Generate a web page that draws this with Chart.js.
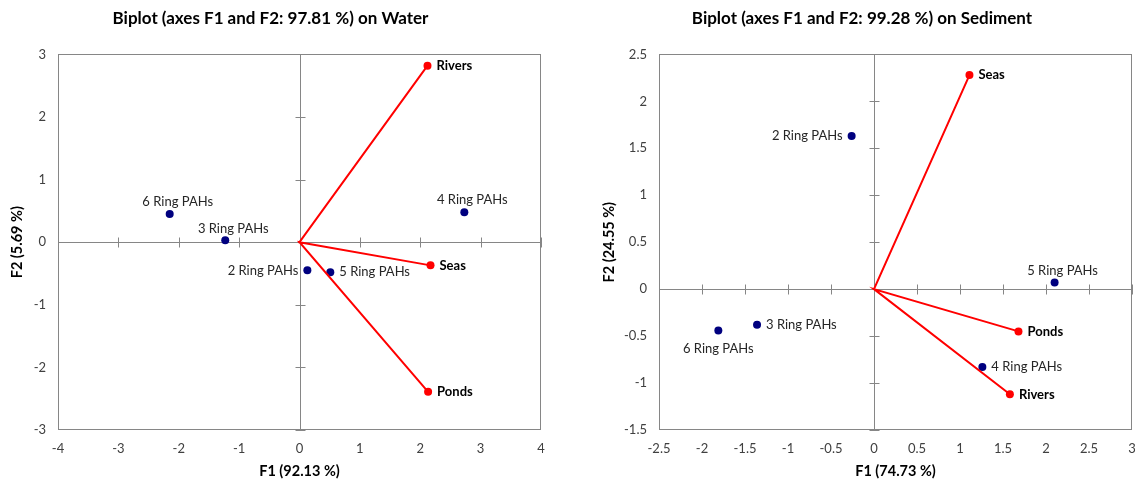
<!DOCTYPE html>
<html lang="en">
<head>
  <meta charset="UTF-8" />
  <title>Biplots Water / Sediment</title>
  <script src="https://cdn.jsdelivr.net/npm/chart.js@4.4.0/dist/chart.umd.min.js"></script>
  <style>
    body { margin: 0; background: #fff; }
    .page { position: relative; width: 1138px; height: 483px; }
    #water-box { position: absolute; left: 0; top: 0; }
    #sediment-box { position: absolute; left: 592px; top: 0; }
  </style>
</head>
<body>
  <div class="page">
    <div id="water-box"><canvas id="water-chart" width="552" height="483"></canvas></div>
    <div id="sediment-box"><canvas id="sediment-chart" width="546" height="483"></canvas></div>
  </div>

  <script>
    // ---- Water biplot data ----
    var waterObs = ['Rivers', 'Seas', 'Ponds'];
    var waterObsF1 = [2.12, 2.17, 2.13];
    var waterObsF2 = [2.82, -0.37, -2.39];
    var waterVars = ['6 Ring PAHs', '3 Ring PAHs', '4 Ring PAHs', '2 Ring PAHs', '5 Ring PAHs'];
    var waterVarsF1 = [-2.15, -1.23, 2.73, 0.13, 0.51];
    var waterVarsF2 = [0.45, 0.03, 0.48, -0.45, -0.48];
    var waterXTicks = [-4, -3, -2, -1, 0, 1, 2, 3, 4];
    var waterYTicks = [-3, -2, -1, 0, 1, 2, 3];

    // ---- Sediment biplot data ----
    var sedObs = ['Seas', 'Ponds', 'Rivers'];
    var sedObsF1 = [1.11, 1.68, 1.58];
    var sedObsF2 = [2.28, -0.45, -1.12];
    var sedVars = ['2 Ring PAHs', '5 Ring PAHs', '3 Ring PAHs', '6 Ring PAHs', '4 Ring PAHs'];
    var sedVarsF1 = [-0.26, 2.10, -1.36, -1.81, 1.26];
    var sedVarsF2 = [1.63, 0.07, -0.38, -0.44, -0.83];
    var sedXTicks = [-2.5, -2, -1.5, -1, -0.5, 0, 0.5, 1, 1.5, 2, 2.5, 3];
    var sedYTicks = [-1.5, -1, -0.5, 0, 0.5, 1, 1.5, 2, 2.5];

    // where each variable label sits relative to its point
    var waterVarPos = ['above', 'above', 'above', 'left', 'right'];
    var sedVarPos = ['left', 'above', 'right', 'below', 'right'];

    var FONT = 'Lato, "Open Sans", sans-serif';
    var AXIS_GRAY = '#868686';

    // frame + axes crossing at the origin, with small tick marks
    var biplotFrame = {
      id: 'biplotFrame',
      beforeDatasetsDraw: function (chart) {
        var ctx = chart.ctx, a = chart.chartArea;
        var xs = chart.scales.x, ys = chart.scales.y;
        var x0 = Math.round(xs.getPixelForValue(0)) + 0.5;
        var y0 = Math.round(ys.getPixelForValue(0)) + 0.5;
        ctx.save();
        ctx.strokeStyle = AXIS_GRAY;
        ctx.lineWidth = 1;
        ctx.strokeRect(Math.round(a.left) + 0.5, Math.round(a.top) + 0.5,
          Math.round(a.right - a.left) - 1, Math.round(a.bottom - a.top) - 1);
        ctx.beginPath();
        ctx.moveTo(x0, a.top); ctx.lineTo(x0, a.bottom);
        ctx.moveTo(a.left, y0); ctx.lineTo(a.right, y0);
        xs.ticks.forEach(function (t) {
          var px = Math.round(xs.getPixelForValue(t.value)) + 0.5;
          ctx.moveTo(px, y0 - 5); ctx.lineTo(px, y0 + 5);
        });
        ys.ticks.forEach(function (t) {
          var py = Math.round(ys.getPixelForValue(t.value)) + 0.5;
          ctx.moveTo(x0 - 5, py); ctx.lineTo(x0 + 5, py);
        });
        ctx.stroke();
        ctx.restore();
      }
    };

    // text labels next to points
    var pointLabels = {
      id: 'pointLabels',
      afterDatasetsDraw: function (chart) {
        var ctx = chart.ctx;
        chart.data.datasets.forEach(function (ds, i) {
          if (!ds.pointText) return;
          var meta = chart.getDatasetMeta(i);
          ctx.save();
          ctx.font = (ds.bold ? 'bold ' : '') + '13px ' + FONT;
          ctx.fillStyle = ds.bold ? '#000' : '#262626';
          meta.data.forEach(function (el, j) {
            var txt = ds.pointText[j];
            if (!txt) return;
            var pos = ds.pointPos[j];
            var x = el.x, y = el.y;
            ctx.textBaseline = 'middle';
            if (pos === 'right') { ctx.textAlign = 'left'; x += 9; }
            else if (pos === 'left') { ctx.textAlign = 'right'; x -= 9; }
            else if (pos === 'above') { ctx.textAlign = 'center'; x += 8; y -= 12; }
            else if (pos === 'below') { ctx.textAlign = 'center'; y += 18; }
            ctx.fillText(txt, x, y);
          });
          ctx.restore();
        });
      }
    };

    function buildBiplot(canvasId, cfg) {
      // vectors go origin -> point -> origin -> point ...
      var vec = [], vecText = [], vecPos = [];
      cfg.obs.forEach(function (name, k) {
        vec.push({ x: 0, y: 0 });
        vec.push({ x: cfg.obsF1[k], y: cfg.obsF2[k] });
        vecText.push(null, name);
        vecPos.push(null, 'right');
      });
      var vars = cfg.vars.map(function (name, k) {
        return { x: cfg.varsF1[k], y: cfg.varsF2[k] };
      });

      var xT = cfg.xTicks, yT = cfg.yTicks;
      var tickFont = { family: FONT, size: 13 };

      return new Chart(document.getElementById(canvasId).getContext('2d'), {
        type: 'scatter',
        data: {
          datasets: [
            {
              data: vec,
              showLine: true,
              borderColor: '#ff0000',
              borderWidth: 2,
              backgroundColor: '#ff0000',
              pointRadius: function (c) { return c.dataIndex % 2 ? 4 : 0; },
              pointBorderWidth: 0,
              pointText: vecText,
              pointPos: vecPos,
              bold: true
            },
            {
              data: vars,
              backgroundColor: '#00007f',
              borderColor: '#00007f',
              pointRadius: 4,
              pointBorderWidth: 0,
              pointText: cfg.vars,
              pointPos: cfg.varPos
            }
          ]
        },
        options: {
          responsive: false,
          animation: false,
          layout: { padding: { left: cfg.padLeft, right: cfg.padRight, top: 0, bottom: 0 } },
          plugins: {
            legend: { display: false },
            tooltip: { enabled: false },
            title: {
              display: true,
              text: cfg.title,
              color: '#000',
              font: { family: FONT, size: 17, weight: 'bold' },
              padding: { top: 8, bottom: 26 }
            }
          },
          scales: {
            x: {
              type: 'linear',
              min: xT[0],
              max: xT[xT.length - 1],
              afterBuildTicks: function (s) { s.ticks = xT.map(function (v) { return { value: v }; }); },
              afterFit: function (s) { s.height = 53; s.paddingLeft = 0; s.paddingRight = 0; },
              grid: { display: false, drawTicks: false },
              border: { display: false },
              ticks: {
                color: '#404040',
                font: tickFont,
                padding: 11,
                maxRotation: 0,
                autoSkip: false,
                callback: function (v) { return String(v); }
              },
              title: {
                display: true,
                text: cfg.xTitle,
                color: '#000',
                font: { family: FONT, size: 14.5, weight: 'bold' },
                padding: { top: 0, bottom: 3 }
              }
            },
            y: {
              type: 'linear',
              min: yT[0],
              max: yT[yT.length - 1],
              afterBuildTicks: function (s) { s.ticks = yT.map(function (v) { return { value: v }; }); },
              afterFit: function (s) { s.width = cfg.yWidth; s.paddingTop = 0; s.paddingBottom = 0; },
              grid: { display: false, drawTicks: false },
              border: { display: false },
              ticks: {
                color: '#404040',
                font: tickFont,
                padding: 12,
                autoSkip: false,
                callback: function (v) { return String(v); }
              },
              title: {
                display: true,
                text: cfg.yTitle,
                color: '#000',
                font: { family: FONT, size: 14.5, weight: 'bold' },
                padding: { top: 9, bottom: 0 }
              }
            }
          }
        },
        plugins: [biplotFrame, pointLabels]
      });
    }

    buildBiplot('water-chart', {
      title: 'Biplot (axes F1 and F2: 97.81 %) on Water',
      xTitle: 'F1 (92.13 %)',
      yTitle: 'F2 (5.69 %)',
      obs: waterObs, obsF1: waterObsF1, obsF2: waterObsF2,
      vars: waterVars, varsF1: waterVarsF1, varsF2: waterVarsF2, varPos: waterVarPos,
      xTicks: waterXTicks, yTicks: waterYTicks,
      padLeft: 0, padRight: 11, yWidth: 58
    });

    buildBiplot('sediment-chart', {
      title: 'Biplot (axes F1 and F2: 99.28 %) on Sediment',
      xTitle: 'F1 (74.73 %)',
      yTitle: 'F2 (24.55 %)',
      obs: sedObs, obsF1: sedObsF1, obsF2: sedObsF2,
      vars: sedVars, varsF1: sedVarsF1, varsF2: sedVarsF2, varPos: sedVarPos,
      xTicks: sedXTicks, yTicks: sedYTicks,
      padLeft: 0, padRight: 6, yWidth: 67
    });
  </script>
</body>
</html>
